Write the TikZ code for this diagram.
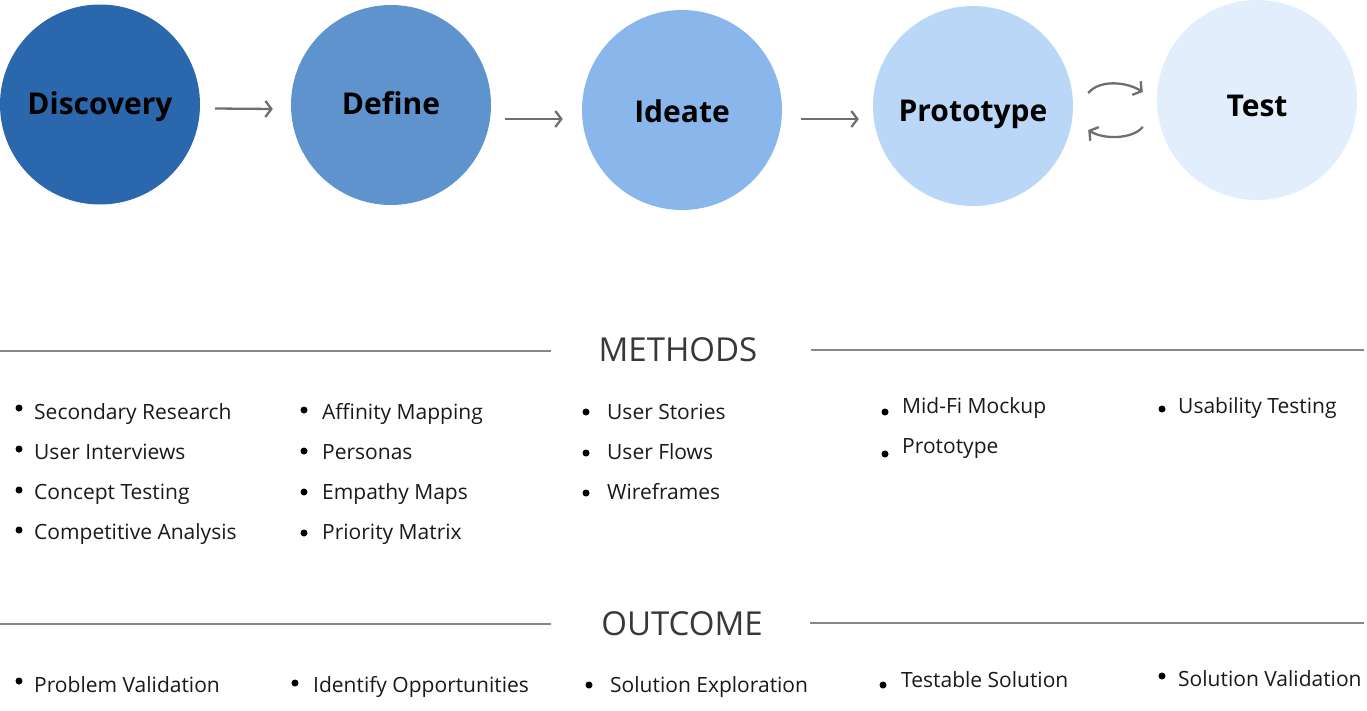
\documentclass[tikz,border=0pt]{standalone}
\usepackage{fontspec}
\setmainfont{Open Sans}
\usetikzlibrary{arrows.meta,positioning}
\definecolor{discblue}{RGB}{42,103,173}
\definecolor{defblue}{RGB}{94,147,205}
\definecolor{ideablue}{RGB}{138,183,235}
\definecolor{protoblue}{RGB}{186,215,247}
\definecolor{testblue}{RGB}{226,238,252}
\definecolor{arrowgray}{RGB}{110,110,110}
\definecolor{rulegray}{RGB}{135,135,135}
\tikzset{
  phase/.style={
    circle,
    minimum size=200pt,
    inner sep=0pt
  },
  phaselabel/.style={
    inner sep=0pt,
    text height=0.714em,
    text depth=0pt,
    font=\fontsize{30}{36}\selectfont\bfseries,
    text=black
  },
  flow/.style={-{Straight Barb[length=6pt,width=16pt]},draw=arrowgray,line width=2.3pt},
  heading/.style={font=\fontsize{33}{38}\selectfont,text=black!78,inner sep=0pt},
  rule/.style={draw=rulegray,line width=1.1pt},
  dot/.style={circle,fill=black,minimum size=7pt,inner sep=0pt},
  item/.style={anchor=west,inner sep=0pt,text height=0.714em,text depth=0pt,yshift=-4pt,
    font=\fontsize{21}{25}\selectfont,text=black!90}
}
\begin{document}
\begin{tikzpicture}[x=1pt,y=-1pt]
\useasboundingbox (0,0) rectangle (1367,710);
% phases
\node[phase,fill=discblue,label={[phaselabel,yshift=-6pt]center:Discovery}] (disc) at (100,104.5) {};
\node[phase,fill=defblue,label={[phaselabel,yshift=-5.5pt]center:Define}] (def) at (391,105) {};
\node[phase,fill=ideablue,label={[phaselabel,yshift=-8.5pt]center:Ideate}] (idea) at (682,110) {};
\node[phase,fill=protoblue,label={[phaselabel,yshift=-11.5pt]center:Prototype}] (proto) at (973,106) {};
\node[phase,fill=testblue,label={[phaselabel,yshift=-12.5pt]center:Test}] (test) at (1257,100) {};
\draw[flow] ([shift={(15,4)}]disc.east)--([shift={(-18,4)}]def.west);
\draw[flow] ([shift={(14,14)}]def.east)--([shift={(-19,9)}]idea.west);
\draw[flow] ([shift={(19,9)}]idea.east)--([shift={(-14,13)}]proto.west);
\draw[flow] ([shift={(15,-13)}]proto.east) .. controls +(12,-14) and +(-16,-10) .. ([shift={(-14,-8)}]test.west);
\draw[flow] ([shift={(-14,27)}]test.west) .. controls +(-10,12) and +(16,10) .. ([shift={(15,24)}]proto.east);
% methods
\node[heading] (meth) at (678,350) {METHODS};
\draw[rule] (0,351)--(551,351);
\draw[rule] (811,350)--(1364,350);
\foreach \dx/\dy/\tx/\ty/\lab [count=\i] in {
  19/408/34/412/Secondary Research, 19/449/34/452/User Interviews,
  19/490/34/492/Concept Testing, 19/530/34/532/Competitive Analysis,
  304/410/322/412/Affinity Mapping, 304/451/322/452/Personas,
  304/492/322/492/Empathy Maps, 304/533/322/532/Priority Matrix,
  586/412/607/412/User Stories, 586/453/607/452/User Flows,
  586/493/607/492/Wireframes,
  885/412/902/406/Mid-Fi Mockup, 885/454/902/446/Prototype,
  1162/409/1178/406/Usability Testing}{
  \node[dot] (mdot\i) at (\dx,\dy) {};
  \node[item] (mtxt\i) at (\tx,\ty) {\lab};
}
% outcome
\node[heading] (outc) at (682,624) {OUTCOME};
\draw[rule] (0,624)--(551,624);
\draw[rule] (810,623)--(1364,623);
\foreach \dx/\dy/\tx/\ty/\lab [count=\i] in {
  19/681/34/685/Problem Validation, 295/683/313/685/Identify Opportunities,
  589/685/610/685/Solution Exploration, 883/685/901/680/Testable Solution,
  1162/676/1178/679/Solution Validation}{
  \node[dot] (odot\i) at (\dx,\dy) {};
  \node[item] (otxt\i) at (\tx,\ty) {\lab};
}
\end{tikzpicture}
\end{document}
